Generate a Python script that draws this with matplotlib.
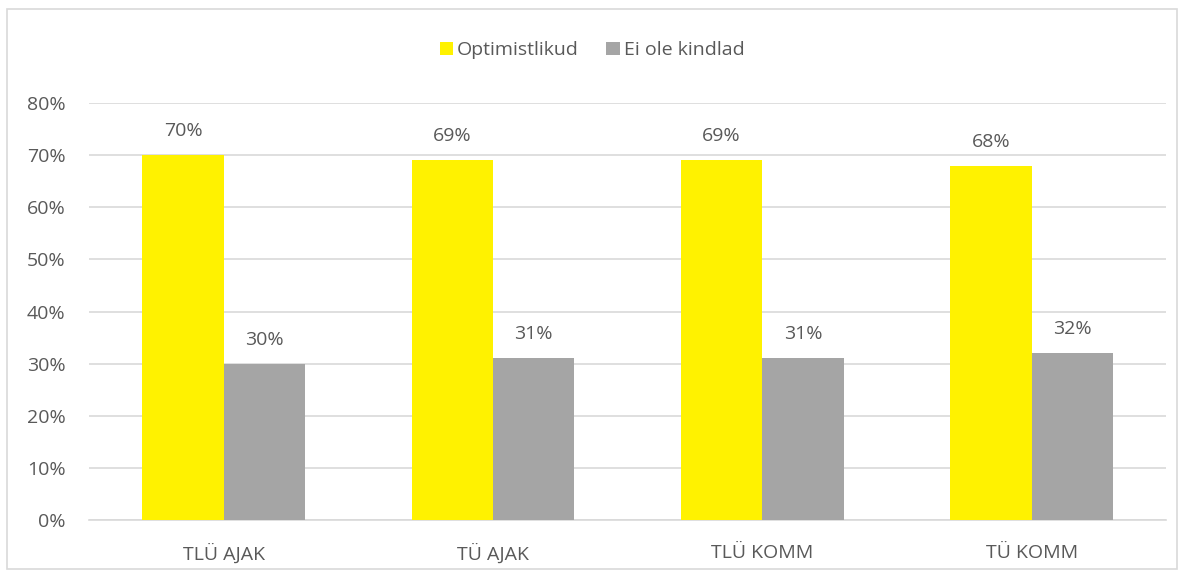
import matplotlib.pyplot as plt
import numpy as np
from matplotlib.patches import Rectangle

plt.rcParams['font.family'] = ['Open Sans', 'DejaVu Sans']

categories = ['TLÜ AJAK', 'TÜ AJAK', 'TLÜ KOMM', 'TÜ KOMM']
optimistlikud = [70, 69, 69, 68]
ei_ole_kindlad = [30, 31, 31, 32]
series_names = ['Optimistlikud', 'Ei ole kindlad']

yellow = '#FFF200'
grey = '#A5A5A5'
txt = '#595959'

fig = plt.figure(figsize=(11.84, 5.76), dpi=100)
fig.patches.append(Rectangle((0.006, 0.012), 0.988, 0.972, transform=fig.transFigure,
                             fill=False, edgecolor='#D9D9D9', linewidth=1.2))
ax = fig.add_axes([0.0752, 0.0972, 0.9098, 0.7238])

x = np.arange(len(categories))
w = 0.302
b1 = ax.bar(x - w / 2, optimistlikud, w, color=yellow, label=series_names[0], zorder=3)
b2 = ax.bar(x + w / 2, ei_ole_kindlad, w, color=grey, label=series_names[1], zorder=3)

# value labels above each bar
for bars, vals in ((b1, optimistlikud), (b2, ei_ole_kindlad)):
    for r, v in zip(bars, vals):
        ax.text(r.get_x() + r.get_width() / 2, v + 2.9, '%d%%' % v,
                ha='center', va='bottom', fontsize=14, color=txt)

ax.set_xlim(-0.5, 3.5)
ax.set_ylim(0, 80)
ax.set_yticks(range(0, 81, 10))
ax.set_yticklabels(['%d%%' % t for t in range(0, 81, 10)])
ax.set_xticks(x)
ax.set_xticklabels(categories)
ax.grid(axis='y', color='#D9D9D9', linewidth=1.2, zorder=0)
for s in ax.spines.values():
    s.set_visible(False)
ax.spines['bottom'].set_visible(True)
ax.spines['bottom'].set_color('#D9D9D9')
ax.spines['bottom'].set_linewidth(1.2)
ax.tick_params(axis='both', length=0, labelsize=14, labelcolor=txt)
ax.tick_params(axis='y', pad=17)
ax.tick_params(axis='x', pad=17)

fig.legend(handles=[b1, b2], loc='center', bbox_to_anchor=(0.5, 0.913), ncol=2,
           frameon=False, fontsize=14, labelcolor=txt, handlelength=0.7,
           handleheight=0.7, handletextpad=0.2, columnspacing=1.4)

fig.savefig('out.png', dpi=100)
